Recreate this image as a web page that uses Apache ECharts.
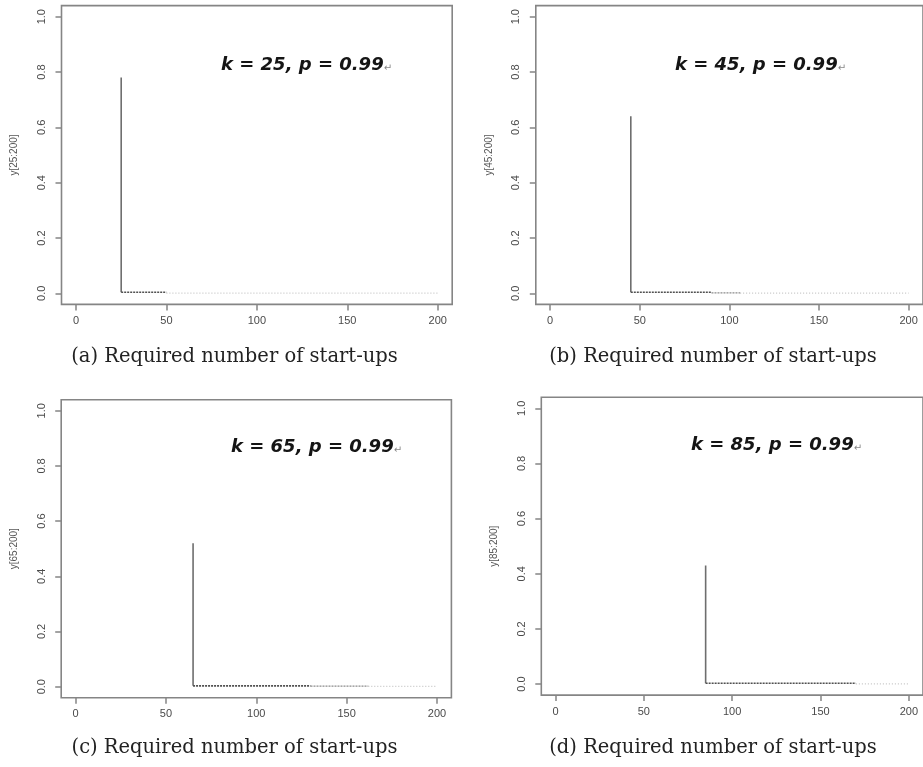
<!DOCTYPE html>
<html>
<head>
<meta charset="utf-8">
<script src="https://cdn.jsdelivr.net/npm/echarts@6/dist/echarts.min.js"></script>
<style>
html,body{margin:0;padding:0;background:#fff;}
#chart{width:923px;height:767px;}
</style>
</head>
<body>
<div id="chart"></div>
<script>
// ---- data ----
const panelLetters = ['(a)', '(b)', '(c)', '(d)'];
const captionText = 'Required number of start-ups';
const kValues = [25, 45, 65, 85];
const pValue = '0.99';
const peakValues = [0.78, 0.64, 0.52, 0.43];
const tailDarkEnd = [50, 90, 130, 170];
const tailMidEnd = [50, 106, 162, 170];
const tailDarkLevel = [0.004, 0.004, 0.003, 0.003];
const tailMidLevel = [0.002, 0.002, 0.002, 0.002];
const tailLightLevel = [0.001, 0.001, 0.001, 0.001];
const xEnd = 200;
const xTicks = [0, 50, 100, 150, 200];
const yTicks = [0, 0.2, 0.4, 0.6, 0.8, 1.0];

// ---- layout (pixels) ----
const grids = [
  {left: 61.5, top: 5.6, width: 390.7, height: 298.8},
  {left: 535.8, top: 5.6, width: 390.7, height: 298.8},
  {left: 61.2, top: 399.7, width: 390.2, height: 298.0},
  {left: 541.3, top: 397.3, width: 389.5, height: 297.8}
];
const notePos = [[221, 65], [675, 65], [231, 447], [691, 445]];
const captionPos = [[234.5, 357], [713, 357], [234.5, 748], [713, 748]];

const axisGrey = '#858585';
const labelGrey = '#4a4a4a';

const option = {
  backgroundColor: '#fff',
  animation: false,
  grid: grids.map(g => Object.assign({show: true, borderColor: axisGrey, borderWidth: 1.6, backgroundColor: 'transparent'}, g)),
  xAxis: grids.map((g, i) => ({
    type: 'value', gridIndex: i, min: -8, max: 208, position: 'bottom',
    splitLine: {show: false},
    axisLine: {show: false, onZero: false},
    axisTick: {show: true, inside: false, length: 6, lineStyle: {color: axisGrey, width: 1.5}, customValues: xTicks},
    axisLabel: {customValues: xTicks, margin: 11, fontSize: 11, color: labelGrey, fontFamily: 'Liberation Sans, Arial, sans-serif',
      formatter: v => String(v)}
  })),
  yAxis: grids.map((g, i) => ({
    type: 'value', gridIndex: i, min: -0.04, max: 1.04, position: 'left',
    splitLine: {show: false},
    axisLine: {show: false, onZero: false},
    name: 'y[' + kValues[i] + ':200]',
    nameLocation: 'middle', nameGap: 42,
    nameTextStyle: {fontSize: 10, color: '#555', fontFamily: 'Liberation Sans, Arial, sans-serif'},
    axisTick: {show: true, inside: false, length: 6, lineStyle: {color: axisGrey, width: 1.5}, customValues: yTicks},
    axisLabel: {customValues: yTicks, rotate: 90, margin: 14, fontSize: 11, color: labelGrey,
      fontFamily: 'Liberation Sans, Arial, sans-serif', formatter: v => v.toFixed(1)}
  })),
  series: [],
  graphic: []
};

kValues.forEach((k, i) => {
  option.series.push({
    type: 'line', xAxisIndex: i, yAxisIndex: i, symbol: 'none', silent: true,
    lineStyle: {color: '#6e6e6e', width: 1.6},
    data: [[k, tailDarkLevel[i]], [k, peakValues[i]]]
  });
  option.series.push({
    type: 'line', xAxisIndex: i, yAxisIndex: i, symbol: 'none', silent: true,
    lineStyle: {color: '#505050', width: 1.6, type: [2, 1]},
    data: [[k, tailDarkLevel[i]], [tailDarkEnd[i], tailDarkLevel[i]]]
  });
  if (tailMidEnd[i] > tailDarkEnd[i]) {
    option.series.push({
      type: 'line', xAxisIndex: i, yAxisIndex: i, symbol: 'none', silent: true,
      lineStyle: {color: '#8c8c8c', width: 1.3, type: [2, 1]},
      data: [[tailDarkEnd[i], tailMidLevel[i]], [tailMidEnd[i], tailMidLevel[i]]]
    });
  }
  option.series.push({
    type: 'line', xAxisIndex: i, yAxisIndex: i, symbol: 'none', silent: true,
    lineStyle: {color: '#c4c4c4', width: 1.2, type: [1, 2]},
    data: [[tailMidEnd[i], tailLightLevel[i]], [xEnd, tailLightLevel[i]]]
  });

  option.graphic.push({
    type: 'text', left: notePos[i][0], top: notePos[i][1] - 9,
    style: {
      text: '{a|k = ' + k + ', p = ' + pValue + '}{b|↵}',
      rich: {
        a: {fontSize: 18, fontStyle: 'italic', fontWeight: 'bold', fontFamily: 'DejaVu Sans', fill: '#151515', color: '#151515'},
        b: {fontSize: 10, fontFamily: 'DejaVu Sans', fill: '#888', color: '#888', padding: [6, 0, 0, 0]}
      }
    }
  });
  option.graphic.push({
    type: 'text', x: captionPos[i][0], y: captionPos[i][1],
    style: {
      text: panelLetters[i] + ' ' + captionText,
      fontSize: 19.5, fontFamily: 'DejaVu Serif', fill: '#222',
      align: 'center', verticalAlign: 'middle'
    }
  });
});

const chart = echarts.init(document.getElementById('chart'), null, {renderer: 'canvas'});
chart.setOption(option);
</script>
</body>
</html>
